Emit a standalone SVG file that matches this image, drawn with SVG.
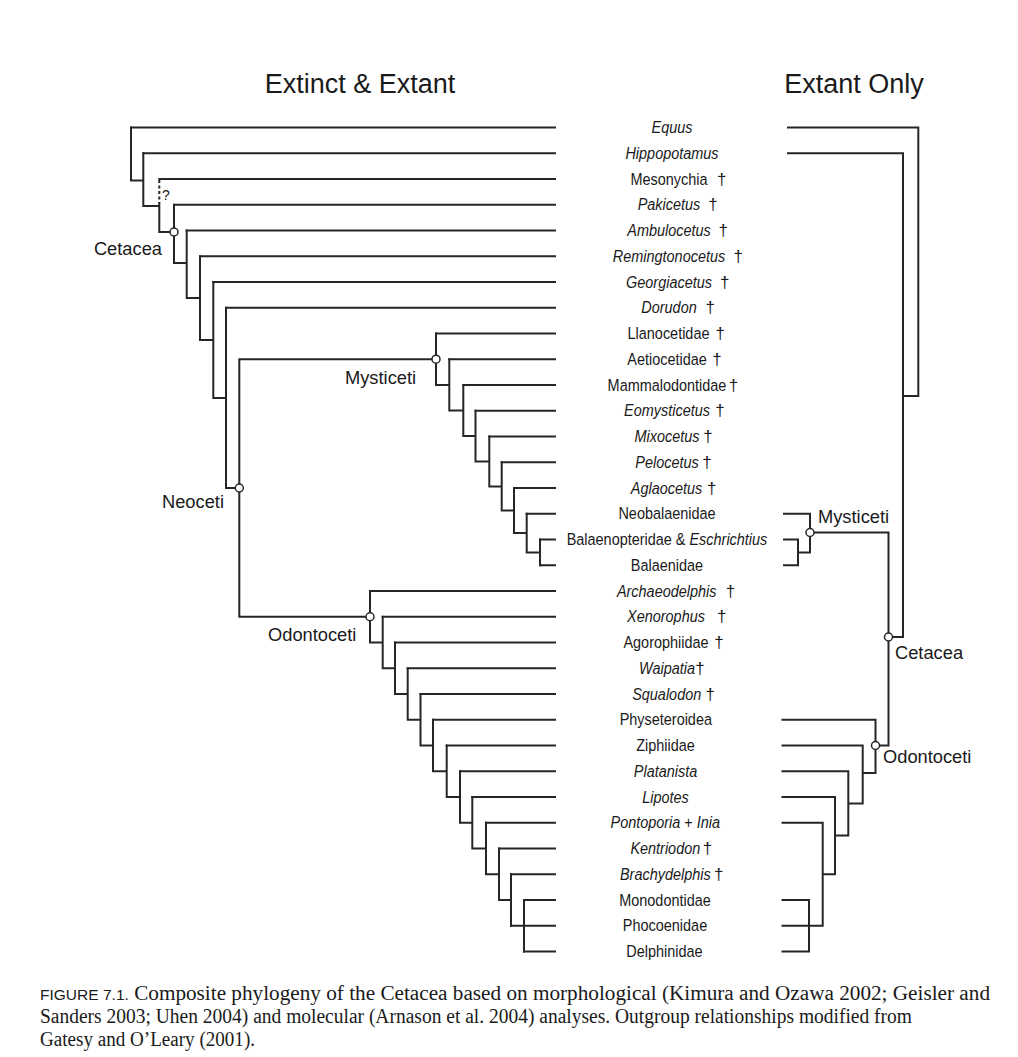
<svg xmlns="http://www.w3.org/2000/svg" width="1018" height="1057" viewBox="0 0 1018 1057">
<style>
  .ln { fill: none; stroke: #262626; stroke-width: 2; stroke-linecap: square; }
  .dash { fill: none; stroke: #262626; stroke-width: 2; stroke-dasharray: 3 2.5; }
  .nd { fill: #ffffff; stroke: #262626; stroke-width: 1.5; }
  .n { font-family: "Liberation Sans", Arial, sans-serif; font-size: 17px; fill: #1a1a1a; text-anchor: middle; }
  .i { font-style: italic; }
  .d { font-family: "Liberation Sans", Arial, sans-serif; font-size: 17px; fill: #1a1a1a; text-anchor: middle; }
  .cl { font-family: "Liberation Sans", Arial, sans-serif; font-size: 18.3px; fill: #1a1a1a; }
  .ttl { font-family: "Liberation Sans", Arial, sans-serif; font-size: 27px; fill: #1a1a1a; text-anchor: middle; }
  .cap { font-family: "Liberation Serif", "Times New Roman", serif; font-size: 20.5px; fill: #1a1a1a; }
  .capsans { font-family: "Liberation Sans", Arial, sans-serif; font-size: 15px; }
</style>
<rect width="1018" height="1057" fill="#ffffff"/>

<g id="titles">
  <text class="ttl" x="360" y="93">Extinct &amp; Extant</text>
  <text class="ttl" x="854" y="93">Extant Only</text>
</g>

<g id="connectors">
  <!-- left tree: terminal branches -->
  <path class="ln" d="M131 127.5H555 M143.3 153.25H555 M159.3 179H555 M174 204.75H555 M186.7 230.5H555 M200 256.25H555 M213.3 282H555 M226 307.75H555
    M436 333.5H555 M449.3 359.25H555 M463.3 385H555 M475.5 410.75H555 M489.3 436.5H555 M501.7 462.25H555 M514 488H555 M526.7 513.75H555 M540 539.5H555 M540 565.25H555
    M370 591H555 M382.7 616.75H555 M395 642.5H555 M407.7 668.25H555 M420.5 694H555 M433 719.75H555 M446.7 745.5H555 M460 771.25H555 M472.3 797H555 M486 822.75H555 M499 848.5H555 M511 874.25H555 M524 900H555 M511 925.75H555 M524 951.5H555"/>
  <!-- left tree: internal -->
  <path class="ln" d="M131 127.5V180.5H143.3 M143.3 153.25V206H159.3 M159.3 203V232H174 M174 204.75V263H186.7 M186.7 230.5V298H200 M200 256.25V340H213.3 M213.3 282V398H226 M226 307.75V488H239.3
    M436 359.2H239.3V616.75H370
    M436 333.5V384.9H449.3 M449.3 359.25V410.6H463.3 M463.3 385V436.1H475.5 M475.5 410.75V461.5H489.3 M489.3 436.5V486.4H501.7 M501.7 462.25V510.5H514 M514 488V533.1H526.7 M526.7 513.75V552.4H540 M540 539.5V565.25
    M370 591V642.5H382.7 M382.7 616.75V668.25H395 M395 642.5V694H407.7 M407.7 668.25V719.75H420.5 M420.5 694V745.5H433 M433 719.75V771.25H446.7 M446.7 745.5V797H460 M460 771.25V822.75H472.3 M472.3 797V848.5H486 M486 822.75V874.25H499 M499 848.5V900H511 M511 874.25V925.75 M524 900V951.5"/>
  <path class="dash" d="M159.3 180V203"/>
  <!-- right tree -->
  <path class="ln" d="M788 127.5H918.3V396H903 M788 153.25H903V637H888.5
    M784 513.75H810V552.4H798 M784 539.5H798V565.25H784
    M810 532.5H888.5V745.5H875.5
    M782.5 719.75H875.5V773H862.7 M782.5 745.5H862.7V803.4H848.3 M782.5 771.25H848.3V835.6H835 M782.5 797H835V874.25H822.7 M782.5 822.75H822.7V925.75H782.5
    M782.5 900H809V951.5H782.5"/>
</g>

<g id="clade-nodes">
  <g id="node-cetacea-left"><circle class="nd" cx="174" cy="232" r="4"/><text class="cl" x="162" y="255" text-anchor="end">Cetacea</text></g>
  <g id="node-mesonychia-uncertain"><text class="cl" x="162" y="200" style="font-size:14px">?</text></g>
  <g id="node-neoceti"><circle class="nd" cx="239.3" cy="488" r="4"/><text class="cl" x="224" y="508" text-anchor="end">Neoceti</text></g>
  <g id="node-mysticeti-left"><circle class="nd" cx="436" cy="359.2" r="4"/><text class="cl" x="345" y="384">Mysticeti</text></g>
  <g id="node-odontoceti-left"><circle class="nd" cx="370" cy="616.75" r="4"/><text class="cl" x="268" y="641">Odontoceti</text></g>
  <g id="node-mysticeti-right"><circle class="nd" cx="810" cy="532.5" r="4"/><text class="cl" x="818" y="523">Mysticeti</text></g>
  <g id="node-cetacea-right"><circle class="nd" cx="888.5" cy="637" r="4"/><text class="cl" x="895" y="659">Cetacea</text></g>
  <g id="node-odontoceti-right"><circle class="nd" cx="875.5" cy="745.5" r="4"/><text class="cl" x="883" y="763">Odontoceti</text></g>
</g>

<g id="taxa">
  <g id="t-equus"><text class="n i" transform="translate(672 133) scale(0.85 1)">Equus</text></g>
  <g id="t-hippopotamus"><text class="n i" transform="translate(672 158.75) scale(0.85 1)">Hippopotamus</text></g>
  <g id="t-mesonychia"><text class="n" transform="translate(669 184.5) scale(0.85 1)">Mesonychia</text><text class="d" x="721.7" y="184.5">†</text></g>
  <g id="t-pakicetus"><text class="n i" transform="translate(669 210.25) scale(0.85 1)">Pakicetus</text><text class="d" x="713" y="210.25">†</text></g>
  <g id="t-ambulocetus"><text class="n i" transform="translate(669 236) scale(0.85 1)">Ambulocetus</text><text class="d" x="723.3" y="236">†</text></g>
  <g id="t-remingtonocetus"><text class="n i" transform="translate(669 261.75) scale(0.85 1)">Remingtonocetus</text><text class="d" x="738.3" y="261.75">†</text></g>
  <g id="t-georgiacetus"><text class="n i" transform="translate(669 287.5) scale(0.85 1)">Georgiacetus</text><text class="d" x="724.7" y="287.5">†</text></g>
  <g id="t-dorudon"><text class="n i" transform="translate(669 313.25) scale(0.85 1)">Dorudon</text><text class="d" x="710.3" y="313.25">†</text></g>
  <g id="t-llanocetidae"><text class="n" transform="translate(668.5 339) scale(0.85 1)">Llanocetidae</text><text class="d" x="720.3" y="339">†</text></g>
  <g id="t-aetiocetidae"><text class="n" transform="translate(667 364.75) scale(0.85 1)">Aetiocetidae</text><text class="d" x="717" y="364.75">†</text></g>
  <g id="t-mammalodontidae"><text class="n" transform="translate(667 390.5) scale(0.85 1)">Mammalodontidae</text><text class="d" x="733.5" y="390.5">†</text></g>
  <g id="t-eomysticetus"><text class="n i" transform="translate(667 416.25) scale(0.85 1)">Eomysticetus</text><text class="d" x="720" y="416.25">†</text></g>
  <g id="t-mixocetus"><text class="n i" transform="translate(667 442) scale(0.85 1)">Mixocetus</text><text class="d" x="708" y="442">†</text></g>
  <g id="t-pelocetus"><text class="n i" transform="translate(667 467.75) scale(0.85 1)">Pelocetus</text><text class="d" x="707" y="467.75">†</text></g>
  <g id="t-aglaocetus"><text class="n i" transform="translate(666.5 493.5) scale(0.85 1)">Aglaocetus</text><text class="d" x="711.7" y="493.5">†</text></g>
  <g id="t-neobalaenidae"><text class="n" transform="translate(667 519.25) scale(0.85 1)">Neobalaenidae</text></g>
  <g id="t-balaenopteridae"><text class="n" transform="translate(667 545) scale(0.85 1)">Balaenopteridae &amp; <tspan class="i">Eschrichtius</tspan></text></g>
  <g id="t-balaenidae"><text class="n" transform="translate(667 570.75) scale(0.85 1)">Balaenidae</text></g>
  <g id="t-archaeodelphis"><text class="n i" transform="translate(666.7 596.5) scale(0.85 1)">Archaeodelphis</text><text class="d" x="730.5" y="596.5">†</text></g>
  <g id="t-xenorophus"><text class="n i" transform="translate(666 622.25) scale(0.85 1)">Xenorophus</text><text class="d" x="721.7" y="622.25">†</text></g>
  <g id="t-agorophiidae"><text class="n" transform="translate(666 648) scale(0.85 1)">Agorophiidae</text><text class="d" x="719" y="648">†</text></g>
  <g id="t-waipatia"><text class="n i" transform="translate(667 673.75) scale(0.85 1)">Waipatia</text><text class="d" x="700" y="673.75">†</text></g>
  <g id="t-squalodon"><text class="n i" transform="translate(666.7 699.5) scale(0.85 1)">Squalodon</text><text class="d" x="710.3" y="699.5">†</text></g>
  <g id="t-physeteroidea"><text class="n" transform="translate(665.8 725.25) scale(0.85 1)">Physeteroidea</text></g>
  <g id="t-ziphiidae"><text class="n" transform="translate(665.5 751) scale(0.85 1)">Ziphiidae</text></g>
  <g id="t-platanista"><text class="n i" transform="translate(665.5 776.75) scale(0.85 1)">Platanista</text></g>
  <g id="t-lipotes"><text class="n i" transform="translate(665.5 802.5) scale(0.85 1)">Lipotes</text></g>
  <g id="t-pontoporia-inia"><text class="n" transform="translate(665.3 828.25) scale(0.85 1)"><tspan class="i">Pontoporia</tspan> + <tspan class="i">Inia</tspan></text></g>
  <g id="t-kentriodon"><text class="n i" transform="translate(665.3 854) scale(0.85 1)">Kentriodon</text><text class="d" x="707.5" y="854">†</text></g>
  <g id="t-brachydelphis"><text class="n i" transform="translate(665.3 879.75) scale(0.85 1)">Brachydelphis</text><text class="d" x="718.8" y="879.75">†</text></g>
  <g id="t-monodontidae"><text class="n" transform="translate(665 905.5) scale(0.85 1)">Monodontidae</text></g>
  <g id="t-phocoenidae"><text class="n" transform="translate(665 931.25) scale(0.85 1)">Phocoenidae</text></g>
  <g id="t-delphinidae"><text class="n" transform="translate(664.5 957) scale(0.85 1)">Delphinidae</text></g>
</g>

<g id="caption">
  <text class="cap" x="40" y="1000" textLength="950" lengthAdjust="spacingAndGlyphs"><tspan class="capsans">FIGURE 7.1.</tspan> Composite phylogeny of the Cetacea based on morphological (Kimura and Ozawa 2002; Geisler and</text>
  <text class="cap" x="40" y="1023" textLength="872" lengthAdjust="spacingAndGlyphs">Sanders 2003; Uhen 2004) and molecular (Arnason et al. 2004) analyses. Outgroup relationships modified from</text>
  <text class="cap" x="40" y="1046" textLength="215" lengthAdjust="spacingAndGlyphs">Gatesy and O’Leary (2001).</text>
</g>
</svg>
